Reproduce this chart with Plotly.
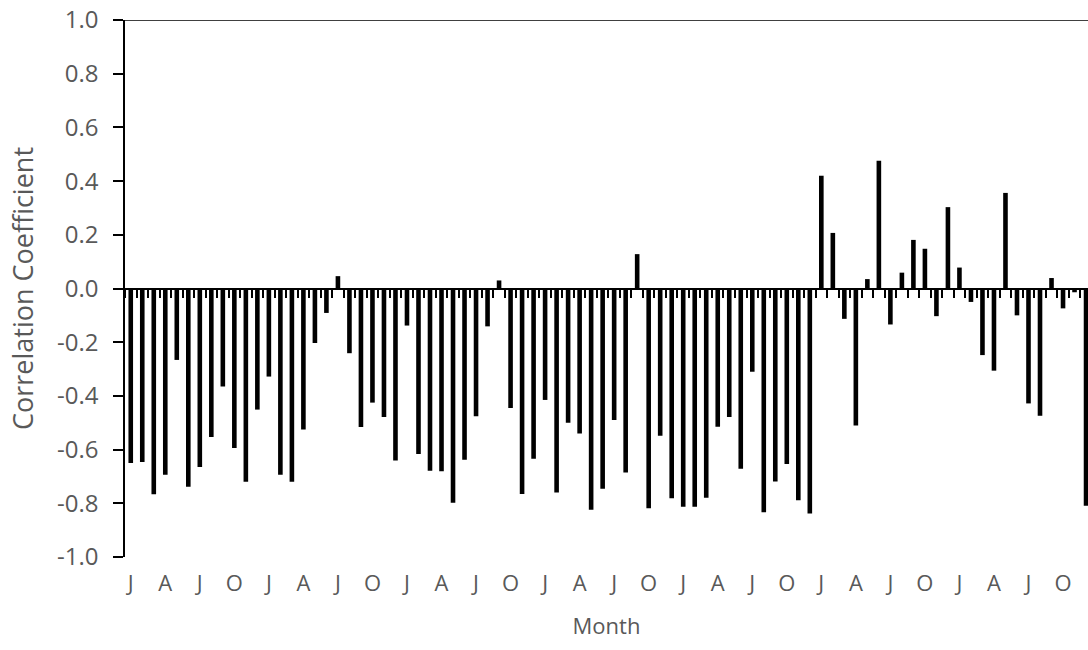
import plotly.graph_objects as go

# Monthly correlation coefficients (84 months, Jan of year 1 to Dec of year 7)
corr_values = [
    -0.650, -0.646, -0.766, -0.694, -0.266, -0.738, -0.665, -0.553, -0.365, -0.594, -0.720, -0.451,
    -0.328, -0.694, -0.720, -0.525, -0.203, -0.091, 0.046, -0.241, -0.516, -0.425, -0.479, -0.641,
    -0.138, -0.616, -0.679, -0.681, -0.798, -0.638, -0.476, -0.141, 0.030, -0.445, -0.765, -0.634,
    -0.415, -0.760, -0.500, -0.540, -0.824, -0.746, -0.490, -0.685, 0.128, -0.818, -0.548, -0.781,
    -0.813, -0.813, -0.779, -0.515, -0.479, -0.671, -0.310, -0.833, -0.719, -0.654, -0.789, -0.838,
    0.420, 0.207, -0.113, -0.510, 0.035, 0.476, -0.134, 0.059, 0.181, 0.148, -0.103, 0.303,
    0.078, -0.050, -0.248, -0.306, 0.356, -0.100, -0.428, -0.474, 0.039, -0.074, -0.014, -0.809,
]

month_initials = ["J", "F", "M", "A", "M", "J", "J", "A", "S", "O", "N", "D"]
n_years = 7
month_labels = [m for _ in range(n_years) for m in month_initials]
label_every = 3

y_tick_values = [-1.0, -0.8, -0.6, -0.4, -0.2, 0.0, 0.2, 0.4, 0.6, 0.8, 1.0]
y_tick_text = ["-1.0", "-0.8", "-0.6", "-0.4", "-0.2", "0.0", "0.2", "0.4", "0.6", "0.8", "1.0"]

x_idx = list(range(len(corr_values)))
tick_idx = x_idx[::label_every]
tick_txt = [month_labels[i] for i in tick_idx]
boundaries = [i - 0.5 for i in range(len(corr_values) + 1)]

FONT = "Open Sans"
GRAY = "#595959"
x_range = [-0.5, 83.17]

fig = go.Figure()
fig.add_trace(go.Bar(
    x=x_idx, y=corr_values, width=0.4,
    marker=dict(color="black", line=dict(width=0)),
    showlegend=False,
))
# invisible trace to activate the zero-line axis
fig.add_trace(go.Scatter(x=[x_range[0]], y=[0], xaxis="x2", mode="markers",
                         marker=dict(opacity=0), showlegend=False, hoverinfo="skip"))

fig.update_layout(
    width=1088, height=650,
    margin=dict(l=125, r=0, t=20, b=93, autoexpand=False),
    plot_bgcolor="white", paper_bgcolor="white",
    font=dict(family=FONT, color=GRAY, size=22),
    xaxis=dict(
        range=x_range, showgrid=False, zeroline=False, showline=False,
        tickmode="array", tickvals=tick_idx, ticktext=tick_txt,
        ticks="outside", ticklen=7, tickcolor="rgba(0,0,0,0)",
        tickfont=dict(family=FONT, size=22, color=GRAY),
        title=dict(text="Month", font=dict(family=FONT, size=22, color=GRAY), standoff=22),
    ),
    xaxis2=dict(
        range=x_range, overlaying="x", anchor="free", position=0.5,
        showgrid=False, zeroline=False, showline=True, linecolor="black", linewidth=2,
        tickmode="array", tickvals=boundaries, showticklabels=False,
        ticks="outside", ticklen=8, tickwidth=1.5, tickcolor="black",
    ),
    yaxis=dict(
        range=[-1, 1], showgrid=False, zeroline=False,
        showline=True, linecolor="black", linewidth=1.5,
        tickmode="array", tickvals=y_tick_values, ticktext=y_tick_text,
        ticks="outside", ticklen=10, tickwidth=1.5, tickcolor="black",
        ticklabelstandoff=10,
        tickfont=dict(family=FONT, size=24, color=GRAY),
        title=dict(text="Correlation Coefficient", font=dict(family=FONT, size=27, color=GRAY), standoff=16),
    ),
    shapes=[dict(type="line", xref="paper", yref="y", x0=0, x1=1, y0=1, y1=1,
                 line=dict(color="black", width=1.5))],
)

fig.write_html(
    "out.html",
    config={"displayModeBar": False},
    post_script="document.body.style.margin='0px';document.body.style.overflow='hidden';",
)
